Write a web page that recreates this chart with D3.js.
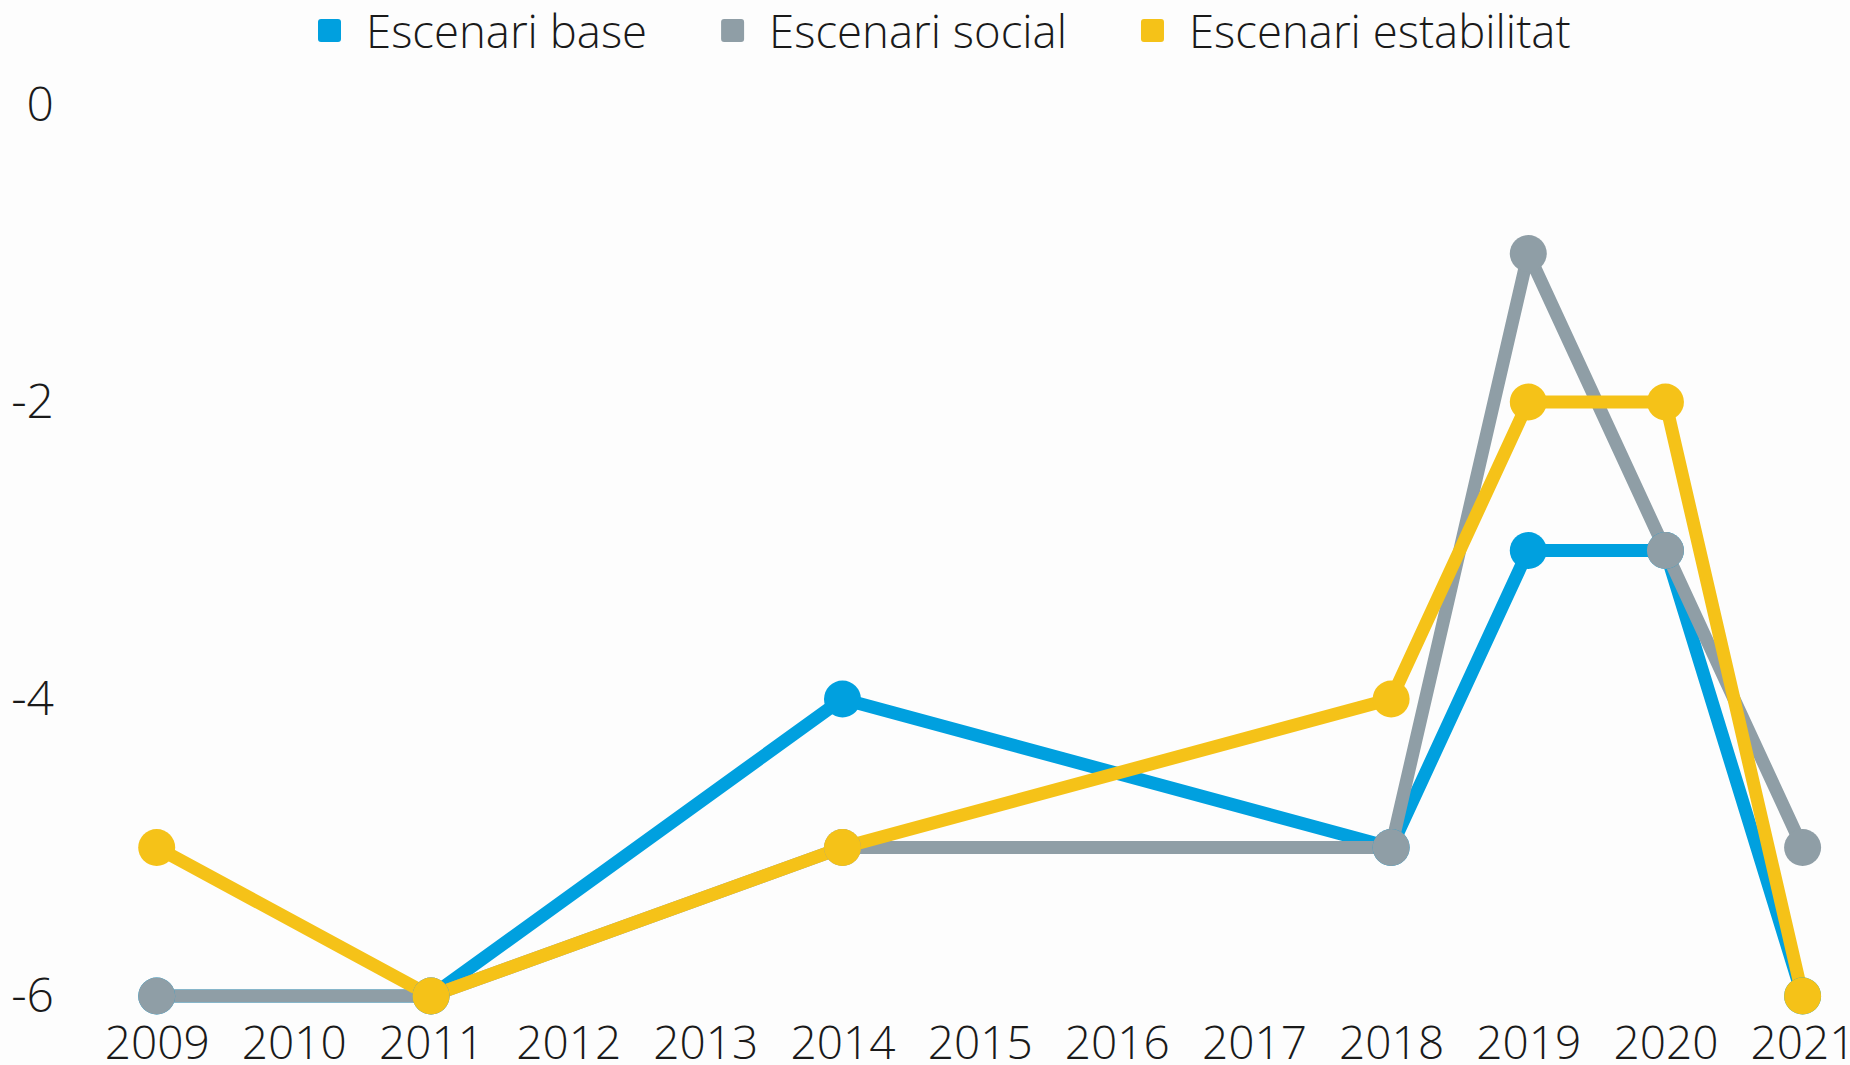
<!DOCTYPE html>
<html>
<head>
<meta charset="utf-8">
<script src="https://cdn.jsdelivr.net/npm/d3@7"></script>
<style>
  html, body { margin: 0; padding: 0; background: #fdfdfd; }
  svg { display: block; font-family: "Open Sans", sans-serif; font-weight: 300; }
</style>
</head>
<body>
<svg id="chart" width="1850" height="1065"></svg>
<script>
// Years on the horizontal axis
const years = [2009, 2010, 2011, 2012, 2013, 2014, 2015, 2016, 2017, 2018, 2019, 2020, 2021];
// Years with observations
const obsYears = [2009, 2011, 2014, 2018, 2019, 2020, 2021];
// Scenario values per observed year
const baseValues = [-6, -6, -4, -5, -3, -3, -6];
const socialValues = [-6, -6, -5, -5, -1, -3, -5];
const estabilitatValues = [-5, -6, -5, -4, -2, -2, -6];
const yTicks = [0, -2, -4, -6];
const seriesNames = ["Escenari base", "Escenari social", "Escenari estabilitat"];
const seriesColors = ["#00a0df", "#8f9ea6", "#f5c218"];

const series = [
  { name: seriesNames[0], color: seriesColors[0], values: baseValues },
  { name: seriesNames[1], color: seriesColors[1], values: socialValues },
  { name: seriesNames[2], color: seriesColors[2], values: estabilitatValues }
].map(s => ({ ...s, points: obsYears.map((yr, i) => ({ year: yr, value: s.values[i] })) }));

const svg = d3.select("#chart");

const x = d3.scaleLinear().domain([2009, 2021]).range([156.7, 1802.6]);
const y = d3.scaleLinear().domain([-6, 0]).range([996, 105]);

// Plain hyphen for negative numbers
const fmt = d => String(d);

// X axis
const xAxis = svg.append("g")
  .attr("transform", `translate(0, 1026)`)
  .call(d3.axisBottom(x).tickValues(years).tickFormat(fmt).tickSize(0).tickPadding(0));
xAxis.select(".domain").remove();
xAxis.selectAll("text")
  .attr("dy", "0.71em")
  .attr("font-family", "Open Sans").attr("font-weight", 300)
  .attr("font-size", 46).attr("fill", "#1a1a1a");

// Y axis
const yAxis = svg.append("g")
  .attr("transform", `translate(54, 0)`)
  .call(d3.axisLeft(y).tickValues(yTicks).tickFormat(fmt).tickSize(0).tickPadding(0));
yAxis.select(".domain").remove();
yAxis.selectAll("text")
  .attr("font-family", "Open Sans").attr("font-weight", 300)
  .attr("font-size", 48).attr("fill", "#1a1a1a");

const line = d3.line().x(d => x(d.year)).y(d => y(d.value));

// Lines, drawn in series order
svg.append("g").selectAll("path")
  .data(series)
  .join("path")
  .attr("d", d => line(d.points))
  .attr("fill", "none")
  .attr("stroke", d => d.color)
  .attr("stroke-width", 13)
  .attr("stroke-linejoin", "round");

// Markers on top of all lines
svg.append("g").selectAll("g")
  .data(series)
  .join("g")
  .attr("fill", d => d.color)
  .selectAll("circle")
  .data(d => d.points)
  .join("circle")
  .attr("cx", d => x(d.year))
  .attr("cy", d => y(d.value))
  .attr("r", 18.5);

// Legend
const legend = svg.append("g").attr("transform", "translate(318, 0)");
let offset = 0;
series.forEach(s => {
  const g = legend.append("g").attr("transform", `translate(${offset}, 0)`);
  g.append("rect").attr("x", 0).attr("y", 19).attr("width", 23).attr("height", 23)
    .attr("rx", 3).attr("fill", s.color);
  const t = g.append("text").attr("x", 48).attr("y", 48)
    .attr("font-family", "Open Sans").attr("font-weight", 300)
    .attr("font-size", 45.5).attr("fill", "#1a1a1a").text(s.name);
  const w = t.node().getComputedTextLength();
  offset += 48 + w + 74;
});
</script>
</body>
</html>
